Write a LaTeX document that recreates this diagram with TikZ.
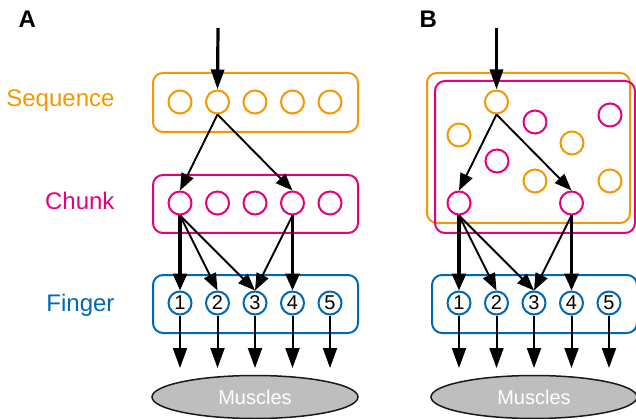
\documentclass[tikz,border=0pt]{standalone}
\usepackage{fontspec}
\setmainfont{Liberation Sans}
\usepackage{tikz}
\usetikzlibrary{arrows.meta}
\usetikzlibrary{shapes.geometric}

\definecolor{orangeS}{HTML}{F39800}
\definecolor{roseC}{HTML}{E4007F}
\definecolor{bleuF}{HTML}{0068B7}
\definecolor{grisM}{HTML}{BEBEBE}

\tikzset{
	boite/.style={line width=2pt,rounded corners=10pt},
	rond/.style={circle,draw,line width=2pt,fill=white,minimum size=23pt,inner sep=0pt},
	doigt/.style={rond,draw=bleuF,font=\fontsize{20}{20}\selectfont},
	fin/.style={line width=1.9pt,-{Triangle[length=17pt,width=13pt]}},
	gros/.style={line width=3.2pt,-{Triangle[length=17pt,width=14pt]}},
	entree/.style={line width=3.2pt,-{Triangle[length=20pt,width=13pt]}},
	versM/.style={line width=2pt,-{Triangle[length=20pt,width=14pt]}},
	muscle/.style={ellipse,draw=black!90,line width=1.5pt,fill=grisM,minimum width=206pt,minimum height=43pt,inner sep=0pt,text=white,font=\fontsize{20}{20}\selectfont},
	etiq/.style={anchor=base east,font=\fontsize{24}{24}\selectfont},
	lettre/.style={anchor=base west,font=\bfseries\fontsize{24}{24}\selectfont}
}

\begin{document}
\begin{tikzpicture}[x=1pt,y=-1pt]
\useasboundingbox (0,0) rectangle (636,419);

\begin{scope} %panneau A
	\node[lettre] (LA) at (15,28) {A};
	\node[etiq,text=orangeS] (LS) at (118,107) {Sequence};
	\node[etiq,text=roseC] (LC) at (118,210) {Chunk};
	\node[etiq,text=bleuF] (LF) at (118,311) {Finger};

	%boites
	\draw[boite,draw=orangeS] (153,73) rectangle (358,132);
	\draw[boite,draw=roseC] (153,175) rectangle (358,233);

	\foreach \i/\x in {1/180,2/217.5,3/255,4/292.5,5/330}{
		\node[rond,draw=orangeS] (S\i) at (\x,102) {};
		\node[rond,draw=roseC] (C\i) at (\x,203) {};
	}

	\coordinate (E) at (218,28);
	\draw[entree] (E) -- (S2.north);
	\draw[fin] (S2.south) -- (C1.north);
	\draw[fin] (S2.south) -- (C4.north);
\end{scope}

\begin{scope} %panneau B
	\node[lettre] (LB) at (416,28) {B};

	%boites
	\draw[boite,draw=orangeS] (427,73) rectangle (630,223);
	\draw[boite,draw=roseC] (435,81) rectangle (635,233);

	\node[rond,draw=orangeS] (bS) at (496.5,102) {};
	\node[rond,draw=orangeS] (bS2) at (459,135) {};
	\node[rond,draw=orangeS] (bS3) at (572,143) {};
	\node[rond,draw=orangeS] (bS4) at (535,181) {};
	\node[rond,draw=orangeS] (bS5) at (610,181) {};
	\node[rond,draw=roseC] (bC3) at (535,122) {};
	\node[rond,draw=roseC] (bC4) at (610,115) {};
	\node[rond,draw=roseC] (bC5) at (497,161) {};
	\node[rond,draw=roseC] (bC1) at (459,203) {};
	\node[rond,draw=roseC] (bC2) at (571.5,203) {};

	\coordinate (bE) at (496.5,28);
	\draw[entree] (bE) -- (bS.north);
	\draw[fin] (bS.south) -- (bC1.north);
	\draw[fin] (bS.south) -- (bC2.north);
\end{scope}

%doigts et muscles
\foreach \p/\s in {/0,b/279}{
	\begin{scope}[xshift=\s pt]
	\draw[boite,draw=bleuF] (153,275) rectangle (358,333);
	\foreach \i/\x in {1/180,2/217.5,3/255,4/292.5,5/330}{
		\node[doigt] (\p F\i) at (\x,303) {\i};
		\coordinate (\p T\i) at (\x,368);
		\draw[versM] (\p F\i.south) -- (\p T\i);
	}
	\node[muscle] (\p M) at (255,397) {Muscles};
	\end{scope}
}

%chunks vers doigts
\draw[gros] (C1.south) -- (F1.north);
\draw[fin] (C1.south) -- (F2.north);
\draw[fin] (C1.south) -- (F3.north);
\draw[fin] (C4.south) -- (F3.north);
\draw[gros] (C4.south) -- (F4.north);

\draw[gros] (bC1.south) -- (bF1.north);
\draw[fin] (bC1.south) -- (bF2.north);
\draw[fin] (bC1.south) -- (bF3.north);
\draw[fin] (bC2.south) -- (bF3.north);
\draw[gros] (bC2.south) -- (bF4.north);

\end{tikzpicture}
\end{document}
